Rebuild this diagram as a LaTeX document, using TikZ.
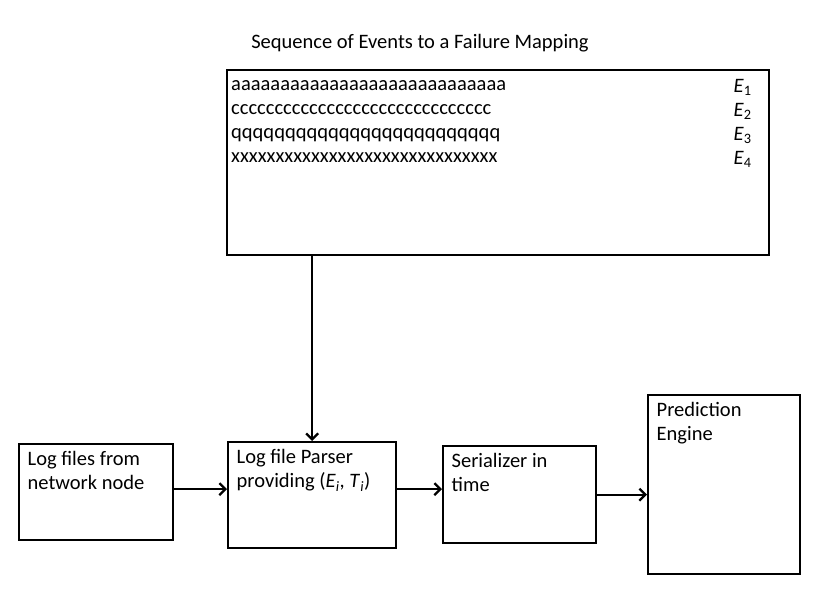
\documentclass[tikz,border=0pt]{standalone}
\usepackage{fontspec}
\setmainfont{Carlito}
\usetikzlibrary{arrows.meta}
\def\ev#1{\textit{E}\textsubscript{#1}}

\begin{document}
\begin{tikzpicture}[x=1pt, y=-1pt,
	blk/.style={draw, line width=2.4pt, anchor=north west, inner sep=0pt},
	txt/.style={anchor=north west, align=left, inner sep=0pt, font=\fontsize{20.5}{24}\selectfont},
	arr/.style={line width=2.3pt, -{Straight Barb[length=6pt,width=12pt,line width=2.3pt]}}]
	%%%%% START %%%%%
	\useasboundingbox (0,0) rectangle (830,606);

	\node[txt, anchor=base] (title) at (420,48) {Sequence of Events to a Failure Mapping};

	% mapping box
	\node[blk, minimum width=542pt, minimum height=185pt] (events) at (226,69) {};
	\node[txt] (rows) at ([shift={(5pt,-11.5pt)}]events.north west)
		{aaaaaaaaaaaaaaaaaaaaaaaaaaaa\\cccccccccccccccccccccccccccccc\\qqqqqqqqqqqqqqqqqqqqqqqqq\\xxxxxxxxxxxxxxxxxxxxxxxxxxxxxx};
	\node[txt] (labels) at ([shift={(-37pt,-10pt)}]events.north east) {\ev{1}\\\ev{2}\\\ev{3}\\\ev{4}};

	% processing chain
	\node[blk, minimum width=154pt, minimum height=96pt] (logs) at (18,443) {};
	\node[txt] (logs-t) at ([shift={(9.5pt,-8.5pt)}]logs.north west) {Log files from\\network node};

	\node[blk, minimum width=168pt, minimum height=106pt] (parser) at (227,441) {};
	\node[txt] (parser-t) at ([shift={(9.5pt,-8.5pt)}]parser.north west)
		{Log file Parser\\providing (\textit{E}\textsubscript{\textit{i}}, \textit{T}\textsubscript{\textit{i}})};

	\node[blk, minimum width=153pt, minimum height=97pt] (ser) at (442,445) {};
	\node[txt] (ser-t) at ([shift={(9.5pt,-8.5pt)}]ser.north west) {Serializer in\\time};

	\node[blk, minimum width=152pt, minimum height=179pt] (pred) at (647,394) {};
	\node[txt] (pred-t) at ([shift={(9.5pt,-8.5pt)}]pred.north west) {Prediction\\Engine};

	% connectors
	\draw[arr] (events.south -| parser.north) -- (parser.north);
	\draw[arr] ([yshift=3pt]logs.east) -- ([yshift=3pt]logs.east -| parser.west);
	\draw[arr] ([yshift=6pt]parser.east) -- ([yshift=6pt]parser.east -| ser.west);
	\draw[arr] (ser.east) -- (ser.east -| pred.west);
	%%%%% END %%%%%
\end{tikzpicture}
\end{document}
